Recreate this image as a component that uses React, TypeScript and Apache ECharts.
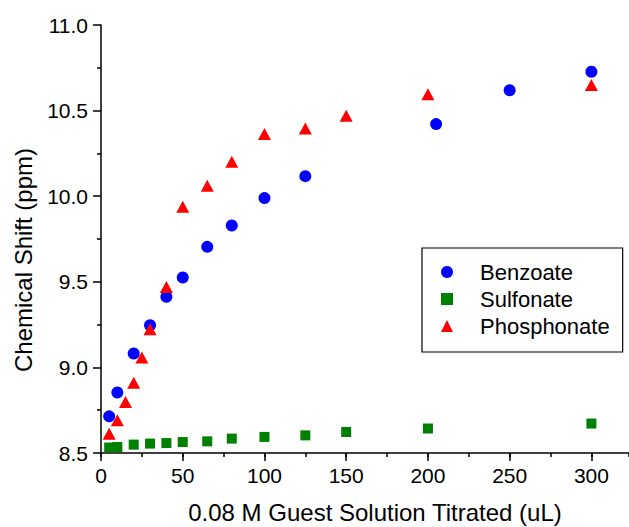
import React, { useEffect, useRef } from 'react';
import * as echarts from 'echarts';

const benzoateX = [5, 10, 20, 30, 40, 50, 65, 80, 100, 125, 205, 250, 300];
const benzoateY = [8.714, 8.853, 9.081, 9.246, 9.412, 9.525, 9.704, 9.829, 9.989, 10.117, 10.421, 10.619, 10.727];
const sulfonateX = [5, 10, 20, 30, 40, 50, 65, 80, 100, 125, 150, 200, 300];
const sulfonateY = [8.532, 8.535, 8.549, 8.555, 8.558, 8.564, 8.568, 8.584, 8.594, 8.603, 8.623, 8.643, 8.672];
const phosphonateX = [5, 10, 15, 20, 25, 30, 40, 50, 65, 80, 100, 125, 150, 200, 300];
const phosphonateY = [8.613, 8.691, 8.798, 8.911, 9.058, 9.223, 9.47, 9.938, 10.061, 10.201, 10.363, 10.396, 10.47, 10.595, 10.649];

const seriesNames = ['Benzoate', 'Sulfonate', 'Phosphonate'];
const xTitle = '0.08 M Guest Solution Titrated (uL)';
const yTitle = 'Chemical Shift (ppm)';

const FONT = 'Liberation Sans, Arial, sans-serif';

const zip = (xs: number[], ys: number[]) => xs.map((x, i) => [x, ys[i]]);

export default function App() {
  const ref = useRef<HTMLDivElement>(null);
  useEffect(() => {
    document.body.style.margin = '0';
    document.body.style.overflow = 'hidden';
    const chart = echarts.init(ref.current!, null, { renderer: 'svg' });
    const axisLine = { show: true, lineStyle: { color: '#000', width: 1.5 } };
    const X_MAX = 323;
    chart.setOption({
      animation: false,
      backgroundColor: '#fff',
      grid: { left: 101, top: 25, right: 0, bottom: 74 },
      xAxis: [
        {
          type: 'value',
          min: 0,
          max: X_MAX,
          interval: 50,
          axisLine,
          axisTick: { show: true, length: 8, lineStyle: { color: '#000', width: 1.5 } },
          axisLabel: {
            margin: 12,
            fontSize: 21,
            fontFamily: FONT,
            color: '#000',
            showMaxLabel: false,
            formatter: (v: number) => (v % 50 === 0 && v <= 300 ? String(v) : ''),
          },
          splitLine: { show: false },
        },
        {
          type: 'value',
          min: 0,
          max: X_MAX,
          interval: 25,
          position: 'bottom',
          axisLine: { show: false },
          axisTick: { show: true, length: 4, lineStyle: { color: '#000', width: 1.5 } },
          axisLabel: { show: false },
          splitLine: { show: false },
        },
      ],
      yAxis: {
        type: 'value',
        min: 8.5,
        max: 11,
        interval: 0.5,
        axisLine,
        axisTick: { show: true, length: 8, lineStyle: { color: '#000', width: 1.5 } },
        minorTick: { show: true, splitNumber: 2, length: 4, lineStyle: { color: '#000', width: 1.5 } },
        axisLabel: {
          margin: 13,
          fontSize: 21,
          fontFamily: FONT,
          color: '#000',
          formatter: (v: number) => v.toFixed(1),
        },
        splitLine: { show: false },
      },
      legend: {
        orient: 'vertical',
        left: 422,
        top: 248,
        itemWidth: 12,
        itemHeight: 12,
        itemGap: 5,
        padding: [13, 13, 15, 19],
        borderColor: '#000',
        borderWidth: 1.2,
        borderRadius: 0,
        backgroundColor: '#fff',
        textStyle: { fontSize: 22, lineHeight: 22, fontFamily: FONT, color: '#000', padding: [0, 0, 0, 22] },
        data: [
          { name: seriesNames[0], icon: 'circle' },
          { name: seriesNames[1], icon: 'rect' },
          { name: seriesNames[2], icon: 'triangle' },
        ],
      },
      graphic: [
        {
          type: 'text',
          x: 375,
          y: 512,
          style: { text: xTitle, fontSize: 24, fontFamily: FONT, fill: '#000', align: 'center', verticalAlign: 'middle' },
        },
        {
          type: 'text',
          x: 23.5,
          y: 260,
          rotation: Math.PI / 2,
          style: { text: yTitle, fontSize: 24, fontFamily: FONT, fill: '#000', align: 'center', verticalAlign: 'middle' },
        },
      ],
      series: [
        {
          name: seriesNames[0],
          type: 'scatter',
          symbol: 'circle',
          symbolSize: 12,
          itemStyle: { color: '#0000FF', opacity: 1 },
          data: zip(benzoateX, benzoateY),
        },
        {
          name: seriesNames[1],
          type: 'scatter',
          symbol: 'rect',
          symbolSize: 10,
          itemStyle: { color: '#008000', opacity: 1 },
          data: zip(sulfonateX, sulfonateY),
        },
        {
          name: seriesNames[2],
          type: 'scatter',
          symbol: 'triangle',
          symbolSize: [13, 12],
          itemStyle: { color: '#FF0000', opacity: 1 },
          data: zip(phosphonateX, phosphonateY),
        },
      ],
    });
    return () => chart.dispose();
  }, []);
  return <div ref={ref} style={{ width: 629, height: 527 }} />;
}
